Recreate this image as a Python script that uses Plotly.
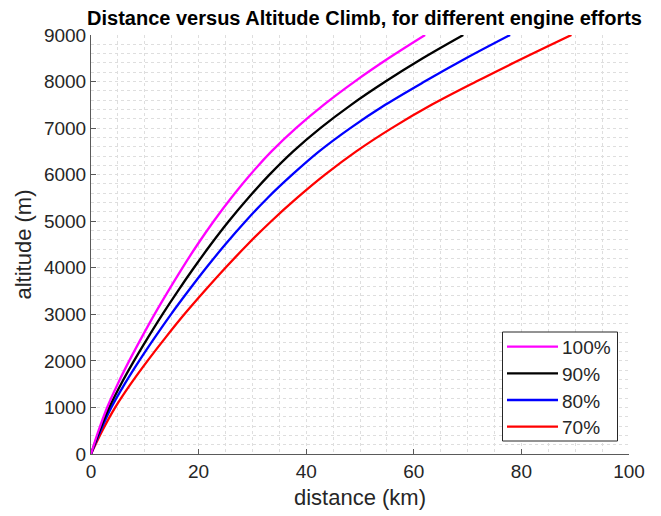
import plotly.graph_objects as go

# Altitude samples (m) and the horizontal distance covered (km) for each engine effort
altitude_m = [0, 500, 1000, 1500, 2000, 2500, 3000, 3500, 4000, 4500,
              5000, 5500, 6000, 6500, 7000, 7500, 8000, 8500, 9000]

dist_100 = [0, 1.4, 3.0, 4.95, 7.1, 9.4, 11.8, 14.35, 17.0, 19.8,
            22.8, 26.05, 29.6, 33.55, 38.1, 43.25, 49.0, 55.3, 62.1]
dist_90 = [0, 1.58, 3.38, 5.57, 7.99, 10.58, 13.28, 16.14, 19.13, 22.26,
           25.6, 29.23, 33.18, 37.58, 42.63, 48.35, 54.73, 61.66, 69.2]
dist_80 = [0, 1.76, 3.78, 6.24, 8.95, 11.84, 14.87, 18.08, 21.42, 24.95,
           28.73, 32.82, 37.4, 42.4, 48.2, 54.7, 62.0, 69.7, 77.9]
dist_70 = [0, 2.1, 4.5, 7.35, 10.5, 13.85, 17.35, 21.1, 25.0, 29.1,
           33.5, 38.3, 43.5, 49.3, 55.9, 63.3, 71.6, 80.3, 89.3]

efforts = ["100%", "90%", "80%", "70%"]
colors = ["#ff00ff", "#000000", "#0000ff", "#ff0000"]
series = [dist_100, dist_90, dist_80, dist_70]

x_ticks = [0, 20, 40, 60, 80, 100]
y_ticks = [0, 1000, 2000, 3000, 4000, 5000, 6000, 7000, 8000, 9000]

FONT = "Liberation Sans, Arial, Helvetica, sans-serif"
TEXT = "#262626"
GRID = "#dedede"
AXIS = "#5a5a5a"
LINE_W = 2.3

W, H = 661, 516
M_L, M_R, M_T, M_B = 91, 32, 35, 62
PW, PH = W - M_L - M_R, H - M_T - M_B


def px_x(px):
    """Pixel column -> paper x fraction."""
    return (px - M_L) / PW


def px_y(py):
    """Pixel row (from top) -> paper y fraction."""
    return (H - M_B - py) / PH


fig = go.Figure()
# draw the weakest effort first so the 100% curve sits on top
for name, col, xs in reversed(list(zip(efforts, colors, series))):
    fig.add_trace(go.Scatter(
        x=xs, y=altitude_m, name=name, mode="lines",
        line=dict(color=col, width=LINE_W, shape="spline", smoothing=1.0),
        showlegend=False,
    ))

axis_common = dict(
    showline=True, linecolor=AXIS, linewidth=1,
    ticks="inside", ticklen=5, tickcolor=AXIS, tickwidth=1,
    showgrid=True, gridcolor=GRID, griddash="dot", gridwidth=1,
    zeroline=False, mirror=False,
    tickfont=dict(family=FONT, size=19, color=TEXT),
    title_font=dict(family=FONT, size=22, color=TEXT),
)

fig.update_xaxes(
    range=[0, 100], tickvals=x_ticks,
    title_text="distance (km)", title_standoff=8,
    minor=dict(dtick=5, showgrid=True, gridcolor=GRID, griddash="dot", gridwidth=1, ticks=""),
    **axis_common,
)
fig.update_yaxes(
    range=[0, 9000], tickvals=y_ticks,
    title_text="altitude (m)", title_standoff=6,
    minor=dict(dtick=200, showgrid=True, gridcolor=GRID, griddash="dot", gridwidth=1, ticks=""),
    **axis_common,
)

# legend box drawn in the lower-right corner of the axes
shapes = [dict(
    type="rect", xref="paper", yref="paper",
    x0=px_x(502.5), x1=px_x(617.5), y0=px_y(441), y1=px_y(332),
    line=dict(color=TEXT, width=1), fillcolor="white", layer="above",
)]
annotations = []
row_y = [346.7, 373.3, 400.0, 426.7]
for name, col, ry in zip(efforts, colors, row_y):
    shapes.append(dict(
        type="line", xref="paper", yref="paper",
        x0=px_x(507), x1=px_x(558), y0=px_y(ry), y1=px_y(ry),
        line=dict(color=col, width=LINE_W), layer="above",
    ))
    annotations.append(dict(
        text=name, xref="paper", yref="paper",
        x=px_x(560), y=px_y(ry + 1), xanchor="left", yanchor="middle",
        showarrow=False, font=dict(family=FONT, size=19, color=TEXT),
    ))

fig.update_layout(
    width=W, height=H,
    margin=dict(l=M_L, r=M_R, t=M_T, b=M_B),
    paper_bgcolor="white", plot_bgcolor="white",
    title=dict(
        text="<b>Distance versus Altitude Climb, for different engine efforts</b>",
        font=dict(family=FONT, size=20, color="#000000"),
        xref="paper", x=px_x(364.5), xanchor="center",
        yref="container", y=1 - 18 / H, yanchor="middle",
    ),
    shapes=shapes,
    annotations=annotations,
    showlegend=False,
)

fig.write_html("out.html")
